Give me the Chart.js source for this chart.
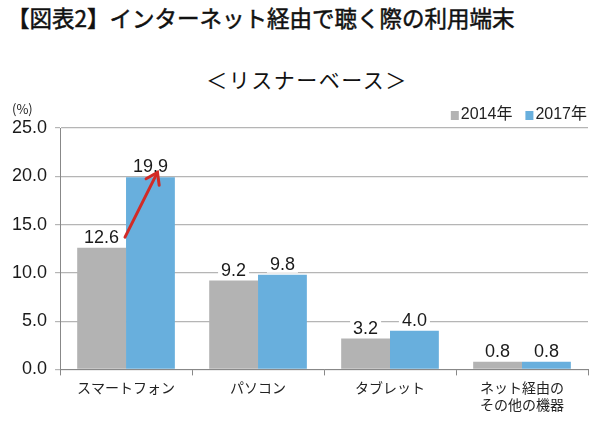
<!DOCTYPE html>
<html>
<head>
<meta charset="utf-8">
<script src="https://cdn.jsdelivr.net/npm/chart.js@4.4.1/dist/chart.umd.min.js"></script>
<style>
  body { margin: 0; background: #fff; font-family: "Noto Sans CJK JP", sans-serif; }
  #wrap { position: relative; width: 600px; height: 424px; overflow: hidden; }
  .titulo { position: absolute; left: 7px; top: 1px; font-size: 22.5px; font-weight: 400; -webkit-text-stroke: 0.5px #111; color: #111; white-space: nowrap; }
  .subtitulo { position: absolute; left: 0; width: 614px; top: 64px; text-align: center; font-size: 21px; letter-spacing: 1.5px; color: #111; }
  #caja { position: absolute; left: 0; top: 92px; width: 600px; height: 332px; }
</style>
</head>
<body>
<div id="wrap">
  <div class="titulo">【図表2】インターネット経由で聴く際の利用端末</div>
  <div class="subtitulo">＜リスナーベース＞</div>
  <div id="caja"><canvas id="grafica"></canvas></div>
</div>
<script>
// datos
var categorias = ['スマートフォン', 'パソコン', 'タブレット', ['ネット経由の', 'その他の機器']];
var serie2014 = [12.6, 9.2, 3.2, 0.8];
var serie2017 = [19.9, 9.8, 4.0, 0.8];
var etiquetasY = [0, 5, 10, 15, 20, 25];
// flecha roja: desde (2014, 13.7) hasta (2017, 20.4) en la primera categoría
var flechaDesde = 13.7;
var flechaHasta = 20.4;

var fuente = '"Liberation Sans", "Noto Sans CJK JP", sans-serif';

// etiquetas de valor con fondo blanco encima de cada barra
var pluginEtiquetas = {
  id: 'etiquetas',
  afterDatasetsDraw: function(chart) {
    var ctx = chart.ctx;
    ctx.save();
    ctx.font = '18px ' + fuente;
    ctx.textAlign = 'center';
    ctx.textBaseline = 'alphabetic';
    chart.data.datasets.forEach(function(ds, i) {
      chart.getDatasetMeta(i).data.forEach(function(bar, j) {
        var txt = ds.data[j].toFixed(1);
        var w = ctx.measureText(txt).width;
        var yb = bar.y - 5;
        ctx.fillStyle = '#fff';
        ctx.fillRect(bar.x - w / 2 - 3, yb - 15, w + 6, 18);
        ctx.fillStyle = '#1a1a1a';
        ctx.fillText(txt, bar.x, yb);
      });
    });
    ctx.restore();
  }
};

// flecha roja, unidad (%) y leyenda arriba a la derecha
var pluginFlecha = {
  id: 'flecha',
  afterDraw: function(chart) {
    var ctx = chart.ctx;
    var y = chart.scales.y;
    var b0 = chart.getDatasetMeta(0).data[0];
    var b1 = chart.getDatasetMeta(1).data[0];
    var x1 = b0.x + b0.width / 2 - 1, y1 = y.getPixelForValue(flechaDesde);
    var x2 = b1.x + 7, y2 = y.getPixelForValue(flechaHasta);
    var ang = Math.atan2(y2 - y1, x2 - x1);
    ctx.save();
    ctx.strokeStyle = '#d22b26';
    ctx.lineWidth = 3;
    ctx.lineCap = 'round';
    ctx.beginPath();
    ctx.moveTo(x1, y1);
    ctx.lineTo(x2, y2);
    ctx.stroke();
    ctx.beginPath();
    ctx.moveTo(x2 - 13 * Math.cos(ang - 0.6), y2 - 13 * Math.sin(ang - 0.6));
    ctx.lineTo(x2, y2);
    ctx.lineTo(x2 - 13 * Math.cos(ang + 0.6), y2 - 13 * Math.sin(ang + 0.6));
    ctx.stroke();

    ctx.fillStyle = '#222';
    ctx.font = '13px "Noto Sans CJK JP", sans-serif';
    ctx.textAlign = 'left';
    ctx.textBaseline = 'middle';
    ctx.fillText('(%)', 12, 17);

    // leyenda
    ctx.font = '16px ' + fuente;
    var xr = chart.chartArea.right - 1;
    var ds = chart.data.datasets;
    for (var i = ds.length - 1; i >= 0; i--) {
      var w = ctx.measureText(ds[i].label).width;
      xr -= w;
      ctx.fillStyle = '#222';
      ctx.fillText(ds[i].label, xr, 23);
      ctx.fillStyle = ds[i].backgroundColor;
      ctx.fillRect(xr - 10, 19, 8, 9);
      xr -= 23;
    }
    ctx.restore();
  }
};

new Chart(document.getElementById('grafica'), {
  type: 'bar',
  data: {
    labels: categorias,
    datasets: [
      { label: '2014年', data: serie2014, backgroundColor: '#b3b3b3', borderWidth: 0 },
      { label: '2017年', data: serie2017, backgroundColor: '#68afdd', borderWidth: 0 }
    ]
  },
  options: {
    responsive: true,
    maintainAspectRatio: false,
    animation: false,
    categoryPercentage: 0.74,
    barPercentage: 1.0,
    layout: { padding: { left: 4, right: 12, top: 36, bottom: 7 } },
    plugins: {
      legend: { display: false },
      tooltip: { enabled: false }
    },
    scales: {
      x: {
        grid: { display: true, drawOnChartArea: false, offset: true, color: '#888', tickLength: 6 },
        border: { color: '#888' },
        ticks: { color: '#222', padding: 4, font: { size: 14, family: '"Noto Sans CJK JP", sans-serif', lineHeight: 1.2 } }
      },
      y: {
        min: 0, max: 25,
        afterBuildTicks: function(scale) {
          scale.ticks = etiquetasY.map(function(v) { return { value: v }; });
        },
        grid: { color: '#b5b5b5', tickLength: 5, lineWidth: 1.2 },
        border: { color: '#888' },
        ticks: {
          color: '#1a1a1a', padding: 8,
          font: { size: 18, family: fuente },
          callback: function(v) { return v.toFixed(1); }
        }
      }
    }
  },
  plugins: [pluginEtiquetas, pluginFlecha]
});
</script>
</body>
</html>
